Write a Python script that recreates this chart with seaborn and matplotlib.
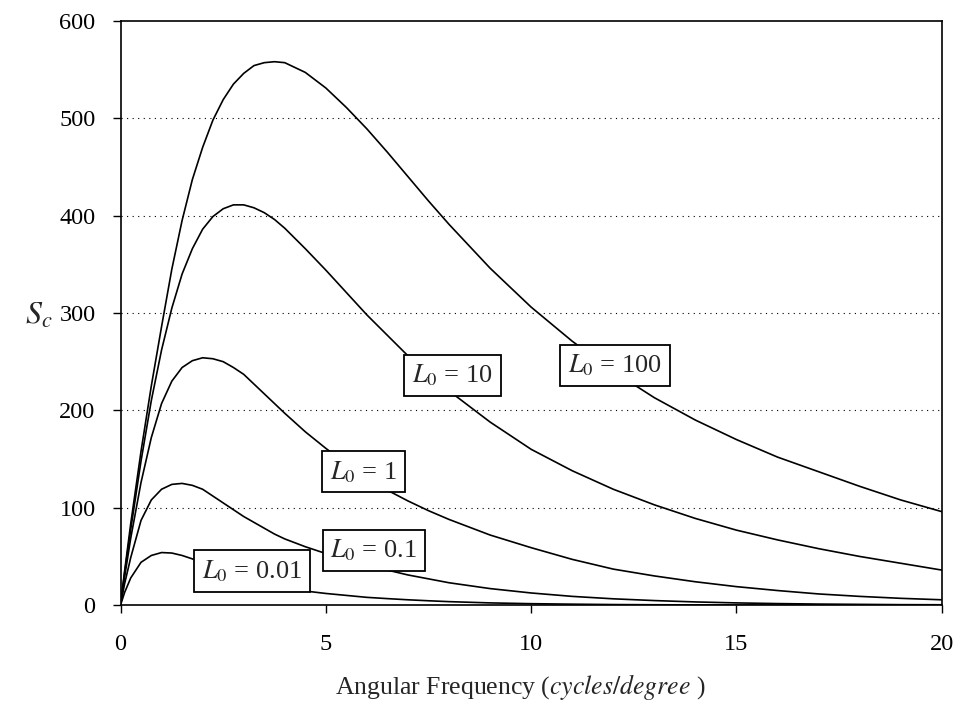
import matplotlib
matplotlib.use("Agg")
import matplotlib.pyplot as plt
import seaborn as sns
import pandas as pd

# angular frequency (cycles/degree) and read-off contrast sensitivity per luminance
freq = [0, 0.1, 0.25, 0.5, 0.75, 1, 1.25, 1.5, 1.75, 2,
        2.25, 2.5, 2.75, 3, 3.25, 3.5, 3.75, 4, 4.5, 5,
        5.5, 6, 6.5, 7, 7.5, 8, 9, 10,
        11, 12, 13, 14, 15, 16, 17, 18, 19, 20]
sc_001 = [0, 13, 28, 44, 51, 54, 53.5, 51, 47.5, 43,
          39, 35, 31, 28, 25, 22, 20, 18, 14.5, 12,
          10, 8, 6.7, 5.5, 4.5, 3.6, 2.3, 1.5,
          1, 0.6, 0.4, 0.25, 0.15, 0.1, 0.06, 0.04, 0.02, 0.01]
sc_01 = [0, 22, 49, 87, 108, 119, 124, 125, 123, 119,
         112, 105, 98, 91, 85, 79, 73, 68, 60, 53,
         47, 41, 36, 31, 27, 23, 17, 12.5,
         9, 6.5, 4.7, 3.3, 2.3, 1.6, 1.1, 0.8, 0.5, 0.4]
sc_1 = [0, 29, 69, 126, 172, 207, 230, 244, 251, 254,
        253, 250, 244, 237, 227, 217, 207, 197, 178, 161,
        145, 131, 118, 107, 97, 88, 72, 59,
        47, 37, 30, 24, 19, 15, 11.5, 9, 7, 5.5]
sc_10 = [0, 33, 78, 148, 210, 262, 305, 340, 366, 386,
         399, 407, 411, 411, 408, 403, 396, 387, 366, 344,
         321, 298, 277, 256, 237, 220, 188, 160,
         138, 119, 103, 89, 77, 67, 58, 50, 43, 36]
sc_100 = [0, 35, 84, 158, 225, 286, 345, 395, 437, 470,
          498, 519, 535, 546, 554, 557, 558, 557, 547, 531,
          511, 489, 465, 440, 415, 391, 346, 306,
          271, 240, 213, 190, 170, 152, 137, 122, 108, 96]

luminances = ["0.01", "0.1", "1", "10", "100"]
series = [sc_001, sc_01, sc_1, sc_10, sc_100]
# label box centres (data coords)
label_pos = [(3.2, 35), (6.17, 56), (5.92, 137), (8.08, 236), (12.05, 246)]

rows = []
for lum, vals in zip(luminances, series):
    for f, v in zip(freq, vals):
        rows.append({"freq": f, "Sc": v, "L0": lum})
df = pd.DataFrame(rows)

sns.set_style("ticks")
plt.rcParams["font.family"] = ["Liberation Serif", "DejaVu Serif"]
plt.rcParams["mathtext.fontset"] = "stix"

fig = plt.figure(figsize=(9.64, 7.17), dpi=100)
ax = fig.add_axes([0.125, 0.156, 0.852, 0.815])

sns.lineplot(data=df, x="freq", y="Sc", hue="L0", palette=["black"] * 5,
             legend=False, linewidth=1.2, ax=ax)

ax.set_xlim(0, 20)
ax.set_ylim(0, 600)
ax.set_xticks([0, 5, 10, 15, 20])
ax.set_yticks(range(0, 601, 100))
for y in range(100, 600, 100):
    ax.axhline(y, color="black", linestyle=(0, (1, 4)), linewidth=0.8, zorder=0)

for sp in ax.spines.values():
    sp.set_visible(True)
    sp.set_color("black")
    sp.set_linewidth(1.2)
ax.tick_params(direction="out", length=6, width=1, labelsize=17.5, colors="black")
ax.tick_params(axis="x", pad=15)
ax.tick_params(axis="y", pad=12)

ax.set_xlabel("Angular Frequency ($\\it{cycles/degree}$ )", fontsize=18.5)
ax.xaxis.set_label_coords(0.487, -0.115)
ax.set_ylabel("$S_c$", fontsize=23, rotation=0)
ax.yaxis.set_label_coords(-0.1, 0.47)

for lum, (x, y) in zip(luminances, label_pos):
    ax.text(x, y, "$L_{\\mathit{0}}$ = " + lum, fontsize=19, ha="center", va="center",
            bbox=dict(boxstyle="square,pad=0.3", facecolor="white", edgecolor="black",
                      linewidth=1.3), zorder=5)

fig.savefig("out.png", dpi=100)
